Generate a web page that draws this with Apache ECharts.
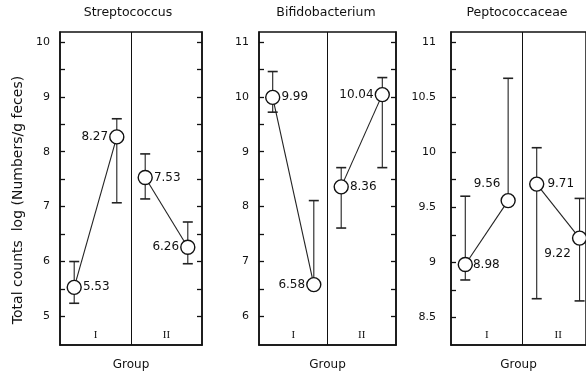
<!DOCTYPE html>
<html>
<head>
<meta charset="utf-8">
<script src="https://cdn.jsdelivr.net/npm/echarts@6/dist/echarts.min.js"></script>
<style>
html,body{margin:0;padding:0;background:#fff;}
#chart{width:586px;height:376px;}
</style>
</head>
<body>
<div id="chart"></div>
<script>
// ---- data ----
const panelTitles = ['Streptococcus', 'Bifidobacterium', 'Peptococcaceae'];
const groupNames = ['I', 'II'];
// measurement positions along the x axis: group I (before, after), group II (before, after)
const xPoints = [1, 4, 6, 9];
const groupDivider = 5;

const strepMean = [5.53, 8.27, 7.53, 6.26];
const strepLow  = [5.24, 7.07, 7.14, 5.96];
const strepHigh = [6.00, 8.60, 7.96, 6.72];

const bifidoMean = [9.99, 6.58, 8.36, 10.04];
const bifidoLow  = [9.72, 6.56, 7.61, 8.71];
const bifidoHigh = [10.46, 8.11, 8.71, 10.35];

const peptoMean = [8.98, 9.56, 9.71, 9.22];
const peptoLow  = [8.84, 9.53, 8.67, 8.65];
const peptoHigh = [9.60, 10.67, 10.04, 9.58];

const strepTickLabels = [5, 6, 7, 8, 9, 10];
const bifidoTickLabels = [6, 7, 8, 9, 10, 11];
const peptoTickLabels = [8.5, 9, 9.5, 10, 10.5, 11];

const strepTicks = [5, 5.5, 6, 6.5, 7, 7.5, 8, 8.5, 9, 9.5, 10];
const bifidoTicks = [6, 6.5, 7, 7.5, 8, 8.5, 9, 9.5, 10, 10.5, 11];
const peptoTicks = [8.5, 8.75, 9, 9.25, 9.5, 9.75, 10, 10.25, 10.5, 10.75, 11];

// ---- layout / style ----
const FONT = 'DejaVu Sans';
const INK = '#111';
const panels = [
  {mean: strepMean, low: strepLow, high: strepHigh, labels: strepTickLabels, ticks: strepTicks,
   min: 4.48, max: 10.18, left: 60, width: 142, xMax: 10, top: 32, labelMargin: 10, rightTicks: true,
   lab: [{position: 'right'}, {position: 'left'}, {position: 'right'}, {position: 'left'}]},
  {mean: bifidoMean, low: bifidoLow, high: bifidoHigh, labels: bifidoTickLabels, ticks: bifidoTicks,
   min: 5.48, max: 11.18, left: 259, width: 137, xMax: 10, top: 32, labelMargin: 10, rightTicks: true,
   lab: [{position: 'right'}, {position: 'left'}, {position: 'right'}, {position: 'left'}]},
  // the third panel runs past the right edge of the picture
  {mean: peptoMean, low: peptoLow, high: peptoHigh, labels: peptoTickLabels, ticks: peptoTicks,
   min: 8.25, max: 11.09, left: 451, width: 136, xMax: 9.45, top: 32, labelMargin: 15, rightTicks: false,
   lab: [{position: 'right', distance: 0}, {position: 'left', distance: 0, offset: [0, -17]},
         {position: 'right', distance: 3}, {position: 'left', distance: 1, offset: [0, 16]}]}
];
const gridHeight = 316;

function errRender(params, api) {
  const x = api.value(0), lo = api.value(1), hi = api.value(2);
  const a = api.coord([x, lo]);
  const b = api.coord([x, hi]);
  const w = 5;
  const st = {stroke: '#222', lineWidth: 1.1};
  const cap = {stroke: '#222', lineWidth: 1.6};
  return {type: 'group', children: [
    {type: 'line', shape: {x1: a[0], y1: a[1], x2: b[0], y2: b[1]}, style: st},
    {type: 'line', shape: {x1: a[0] - w, y1: a[1], x2: a[0] + w, y2: a[1]}, style: cap},
    {type: 'line', shape: {x1: b[0] - w, y1: b[1], x2: b[0] + w, y2: b[1]}, style: cap}
  ]};
}

const grid = [], xAxis = [], yAxis = [], series = [], graphic = [];

panels.forEach((p, i) => {
  grid.push({left: p.left, width: p.width, top: p.top, height: gridHeight,
    show: true, borderColor: INK, borderWidth: 1.5, backgroundColor: 'transparent'});
  xAxis.push({
    type: 'value', gridIndex: i, min: 0, max: p.xMax,
    axisLine: {show: true, lineStyle: {color: INK, width: 1.5}},
    axisTick: {show: false},
    splitLine: {show: false},
    axisLabel: {inside: true, customValues: [2.5, 7.5], margin: 4,
      formatter: v => (v < groupDivider ? groupNames[0] : groupNames[1]),
      fontFamily: 'Liberation Serif', fontSize: 11, color: INK},
    name: 'Group', nameLocation: 'middle', nameGap: 14,
    nameTextStyle: {fontFamily: FONT, fontSize: 12, color: INK}
  });
  const tickCommon = {show: true, inside: true, length: 5, customValues: p.ticks,
    lineStyle: {color: INK, width: 1.3}};
  yAxis.push({
    type: 'value', gridIndex: i, min: p.min, max: p.max, position: 'left',
    axisLine: {show: true, lineStyle: {color: INK, width: 1.5}},
    axisTick: tickCommon,
    splitLine: {show: false},
    axisLabel: {customValues: p.labels, margin: p.labelMargin, fontFamily: FONT, fontSize: 11, color: INK,
      formatter: v => String(v)}
  });
  yAxis.push({
    type: 'value', gridIndex: i, min: p.min, max: p.max, position: 'right',
    axisLine: {show: p.rightTicks, lineStyle: {color: INK, width: 1.5}},
    axisTick: Object.assign({}, tickCommon, {show: p.rightTicks}),
    splitLine: {show: false},
    axisLabel: {show: false}
  });

  // error bars
  series.push({
    type: 'custom', xAxisIndex: i, yAxisIndex: 2 * i, renderItem: errRender, z: 2,
    encode: {x: 0, y: [1, 2]},
    data: xPoints.map((x, k) => [x, p.low[k], p.high[k]]),
    silent: true
  });

  // two groups: points 0-1 and 2-3
  [[0, 1], [2, 3]].forEach((idx, g) => {
    const s = {
      type: 'line', xAxisIndex: i, yAxisIndex: 2 * i, z: 5,
      symbol: 'circle', symbolSize: 14,
      itemStyle: {color: '#fff', borderColor: INK, borderWidth: 1.4},
      lineStyle: {color: '#222', width: 1.1},
      label: {show: true, fontFamily: FONT, fontSize: 12, color: INK, distance: 1,
        formatter: d => d.value[1].toFixed(2)},
      data: idx.map(k => ({value: [xPoints[k], p.mean[k]], label: p.lab[k]})),
      silent: true, animation: false
    };
    if (g === 0) {
      s.markLine = {
        silent: true, symbol: ['none', 'none'], label: {show: false},
        lineStyle: {color: INK, width: 1, type: 'solid'},
        data: [{xAxis: groupDivider}]
      };
    }
    series.push(s);
  });
});

const titleCenters = [128, 326, 517];
panelTitles.forEach((t, i) => {
  graphic.push({
    type: 'text', x: titleCenters[i], y: 13,
    style: {text: t, font: '12.5px "' + FONT + '"', fill: INK,
      textAlign: 'center', textVerticalAlign: 'middle'}
  });
});

graphic.push({
  type: 'text', x: 18, y: 200, rotation: Math.PI / 2,
  style: {text: 'Total counts  log (Numbers/g feces)', font: '14px "' + FONT + '"', fill: INK,
    textAlign: 'center', textVerticalAlign: 'middle'}
});

const chart = echarts.init(document.getElementById('chart'), null, {renderer: 'canvas'});
chart.setOption({
  animation: false,
  backgroundColor: '#fff',
  grid, xAxis, yAxis, series, graphic
});
</script>
</body>
</html>
